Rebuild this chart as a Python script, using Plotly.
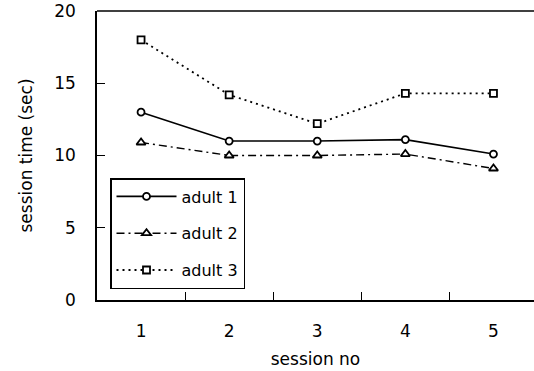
import plotly.graph_objects as go

sessions = ["1", "2", "3", "4", "5"]
adult1 = [13.0, 11.0, 11.0, 11.1, 10.1]
adult2 = [10.9, 10.0, 10.0, 10.1, 9.1]
adult3 = [18.0, 14.2, 12.2, 14.3, 14.3]
y_ticks = [0, 5, 10, 15, 20]

FONT = "DejaVu Sans"

fig = go.Figure()
fig.add_trace(go.Scatter(
    x=sessions, y=adult1, name="adult 1", mode="lines+markers",
    line=dict(color="black", width=1.6, dash="solid"),
    marker=dict(symbol="circle", size=7, color="white", line=dict(color="black", width=1.8)),
    legendgroup="a1"))
fig.add_trace(go.Scatter(
    x=sessions, y=adult2, name="adult 2", mode="lines+markers",
    line=dict(color="black", width=1.4, dash="8px,4px,2px,4px"),
    marker=dict(symbol="triangle-up", size=8, color="white", line=dict(color="black", width=1.8)),
    legendgroup="a2"))
fig.add_trace(go.Scatter(
    x=sessions, y=adult3, name="adult 3", mode="lines+markers",
    line=dict(color="black", width=1.8, dash="2px,4px"),
    marker=dict(symbol="square", size=7, color="white", line=dict(color="black", width=1.8)),
    legendgroup="a3"))

fig.update_layout(
    width=534, height=371,
    margin=dict(l=97, r=0, t=11, b=71),
    paper_bgcolor="white", plot_bgcolor="white",
    font=dict(family=FONT, size=17, color="black"),
    showlegend=True,
    legend=dict(
        x=(110 - 97) / 437, y=(300 - 178) / 289, xanchor="left", yanchor="top",
        bordercolor="black", borderwidth=1.5, bgcolor="white",
        traceorder="grouped", tracegroupgap=13,
        font=dict(family=FONT, size=16, color="black"),
        itemwidth=60,
    ),
    xaxis=dict(
        type="category", categoryorder="array", categoryarray=sessions,
        range=[-0.5, 4.46], tickson="boundaries",
        ticks="inside", ticklen=8, tickwidth=1.2, tickcolor="black",
        showline=True, linecolor="black", linewidth=1.5,
        showgrid=False, zeroline=False, automargin=False,
        ticklabelstandoff=15,
        title=dict(text="session no", standoff=13, font=dict(family=FONT, size=17)),
        tickfont=dict(family=FONT, size=17),
    ),
    yaxis=dict(
        range=[0, 20], tickvals=y_ticks,
        ticks="inside", ticklen=8, tickwidth=1.2, tickcolor="black",
        showline=True, linecolor="black", linewidth=1.5,
        showgrid=False, zeroline=False, automargin=False,
        ticklabelstandoff=16,
        title=dict(text="session time (sec)", standoff=17, font=dict(family=FONT, size=17)),
        tickfont=dict(family=FONT, size=17),
    ),
)

fig.add_shape(type="line", xref="paper", yref="paper", x0=0, x1=1, y0=1, y1=1,
              line=dict(color="black", width=1.5))

fig.write_html("out.html", config={"displayModeBar": False},
               post_script="document.body.style.margin='0';document.body.style.overflow='hidden';")
